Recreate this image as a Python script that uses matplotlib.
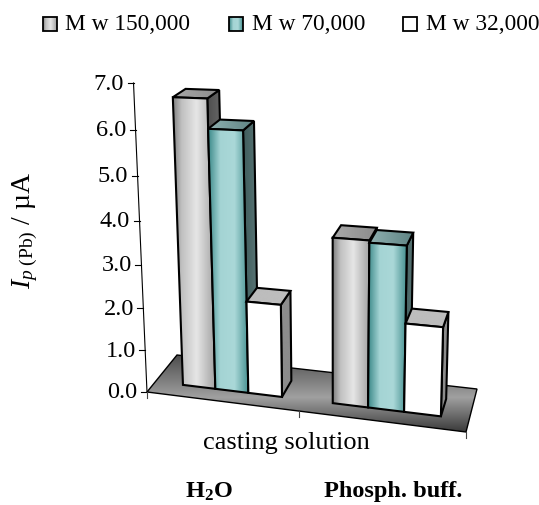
import numpy as np
import matplotlib
matplotlib.use("Agg")
import matplotlib.pyplot as plt
from matplotlib.patches import Polygon, Rectangle
from matplotlib.colors import LinearSegmentedColormap as LSC

series_names = ["M w 150,000", "M w 70,000", "M w 32,000"]
categories = [r"$\mathbf{H_{2}O}$", "Phosph. buff."]
axis_title = "casting solution"
tick_values = [0, 1, 2, 3, 4, 5, 6, 7]
tick_labels = ["0.0", "1.0", "2.0", "3.0", "4.0", "5.0", "6.0", "7.0"]
mw150 = [6.6, 3.75]
mw70 = [5.95, 3.7]
mw32 = [2.15, 2.0]

plt.rcParams["font.family"] = "Liberation Serif"
plt.rcParams["mathtext.fontset"] = "custom"
plt.rcParams["mathtext.rm"] = "Liberation Serif"
plt.rcParams["mathtext.it"] = "Liberation Serif:italic"
plt.rcParams["mathtext.bf"] = "Liberation Serif:bold"

fig = plt.figure(figsize=(5.39, 5.06), dpi=100)
ax = fig.add_axes([0, 0, 1, 1])
ax.set_xlim(0, 539)
ax.set_ylim(506, 0)
ax.axis("off")

# ---- perspective scale: floor homography + vertical vanishing point
src = [(0, 0), (1, 0), (1, 1), (0, 1)]
dst = [(147, 393), (466, 433), (477, 390), (177, 356)]
A, b = [], []
for (x, z), (u, v) in zip(src, dst):
    A.append([x, z, 1, 0, 0, 0, -u * x, -u * z]); b.append(u)
    A.append([0, 0, 0, x, z, 1, -v * x, -v * z]); b.append(v)
h = np.linalg.solve(np.array(A, float), np.array(b, float))
H = np.array([[h[0], h[1], h[2]], [h[3], h[4], h[5]], [h[6], h[7], 1.0]])
VP = np.array([335.0, 4700.0, 1.0])
TOP_V, TOP_Y = 7.0, 84.0
k = (TOP_Y - 393) / (TOP_V * (VP[1] - TOP_Y))
P = np.column_stack([H[:, 0], H[:, 1], k * VP, H[:, 2]])


def proj(x, z, v):
    q = P @ np.array([x, z, v, 1.0])
    return q[0] / q[2], q[1] / q[2]


def gradient_poly(pts, stops, horizontal=True, z=1, edge="black", lw=1.5):
    pts = np.array(pts)
    x0, x1, y0, y1 = pts[:, 0].min(), pts[:, 0].max(), pts[:, 1].min(), pts[:, 1].max()
    cmap = LSC.from_list("g", stops)
    g = np.linspace(0, 1, 256)
    g = g[None, :] if horizontal else g[:, None]
    im = ax.imshow(g, cmap=cmap, extent=(x0, x1, y1, y0), aspect="auto",
                   zorder=z, vmin=0, vmax=1, interpolation="bilinear")
    poly = Polygon(pts, closed=True, transform=ax.transData, fc="none", ec="none")
    ax.add_patch(poly)
    im.set_clip_path(poly)
    ax.add_patch(Polygon(pts, closed=True, fc="none", ec=edge, lw=lw, zorder=z + 0.1,
                         joinstyle="miter"))
    ax.set_xlim(0, 539)
    ax.set_ylim(506, 0)


FRONT = [(0, "#808080"), (0.2, "#c0c0c0"), (0.55, "#e6e6e6"), (1, "#a0a0a0")]
TEAL = [(0, "#3a8888"), (0.3, "#a4d4d4"), (0.65, "#aad8d8"), (1, "#448f8f")]
WHITE = ["#ffffff", "#ffffff"]
styles = [
    dict(front=FRONT, side=["#4e4e4e", "#707070"], top=["#a8a8a8", "#8c8c8c"]),
    dict(front=TEAL, side=["#3f5c5c", "#5c7878"], top=["#8fb0b0", "#5f8484"]),
    dict(front=WHITE, side=["#8c8c8c", "#8c8c8c"], top=["#bdbdbd", "#bdbdbd"]),
]

# floor
floor = [proj(*c, 0) for c in src]
gradient_poly(floor, [(0, "#4d4d4d"), (0.55, "#a0a0a0"), (1, "#3a3a3a")],
              horizontal=False, z=1, lw=1.0)

# bars
Z0, Z1 = 0.27, 0.68
W = 0.110
centres = [0.260, 0.752]
zo = 2
for c, cx in enumerate(centres):
    for s, vals in enumerate([mw150, mw70, mw32]):
        v = vals[c]
        xa = cx + (s - 1.5) * W
        xb = xa + W
        st = styles[s]
        gradient_poly([proj(xb, Z0, 0), proj(xb, Z1, 0), proj(xb, Z1, v), proj(xb, Z0, v)],
                      st["side"], z=zo)
        gradient_poly([proj(xa, Z0, v), proj(xb, Z0, v), proj(xb, Z1, v), proj(xa, Z1, v)],
                      st["top"], z=zo + 1)
        gradient_poly([proj(xa, Z0, 0), proj(xb, Z0, 0), proj(xb, Z0, v), proj(xa, Z0, v)],
                      st["front"], z=zo + 2)
        zo += 3

# value axis
bot, top = proj(0, 0, 0), proj(0, 0, 7)
ax.plot([bot[0], top[0]], [bot[1], top[1]], color="black", lw=0.8, zorder=1.5)
for t, lab in zip(tick_values, tick_labels):
    px, py = proj(0, 0, t)
    ax.plot([px - 6, px], [py, py], color="black", lw=0.8, zorder=1.5)
    ax.text(px - 9.5, py, lab, ha="right", va="center", fontsize=17.5)

# category axis ticks
for xf in [0, 0.5, 1]:
    px, py = proj(xf, 0, 0)
    ax.plot([px, px], [py, py + 6], color="#444444", lw=0.8, zorder=1.5)

ax.text(286.5, 443, axis_title, ha="center", va="center", fontsize=19)
ax.text(209, 492, categories[0], ha="center", va="center", fontsize=17.5, fontweight="bold")
ax.text(393.5, 492, categories[1], ha="center", va="center", fontsize=17.5, fontweight="bold")
ax.text(25, 230, r"$\mathit{I}_{\mathit{p}\ \mathrm{(Pb)}}$ / µA", rotation=90, ha="center",
        va="center", fontsize=20)

# legend
swatches = [FRONT, TEAL, WHITE]
for bx, tx, nm, stops in zip([43, 229, 403], [65, 252, 426], series_names, swatches):
    g = np.linspace(0, 1, 64)[None, :]
    ax.imshow(g, cmap=LSC.from_list("l", stops), extent=(bx, bx + 14, 32, 18), aspect="auto",
              zorder=5, vmin=0, vmax=1)
    ax.add_patch(Rectangle((bx, 18), 14, 14, fc="none", ec="black", lw=1.3, zorder=6))
    ax.text(tx, 24.5, nm, ha="left", va="center", fontsize=16.8)
ax.set_xlim(0, 539)
ax.set_ylim(506, 0)

fig.savefig("out.png", dpi=100)
